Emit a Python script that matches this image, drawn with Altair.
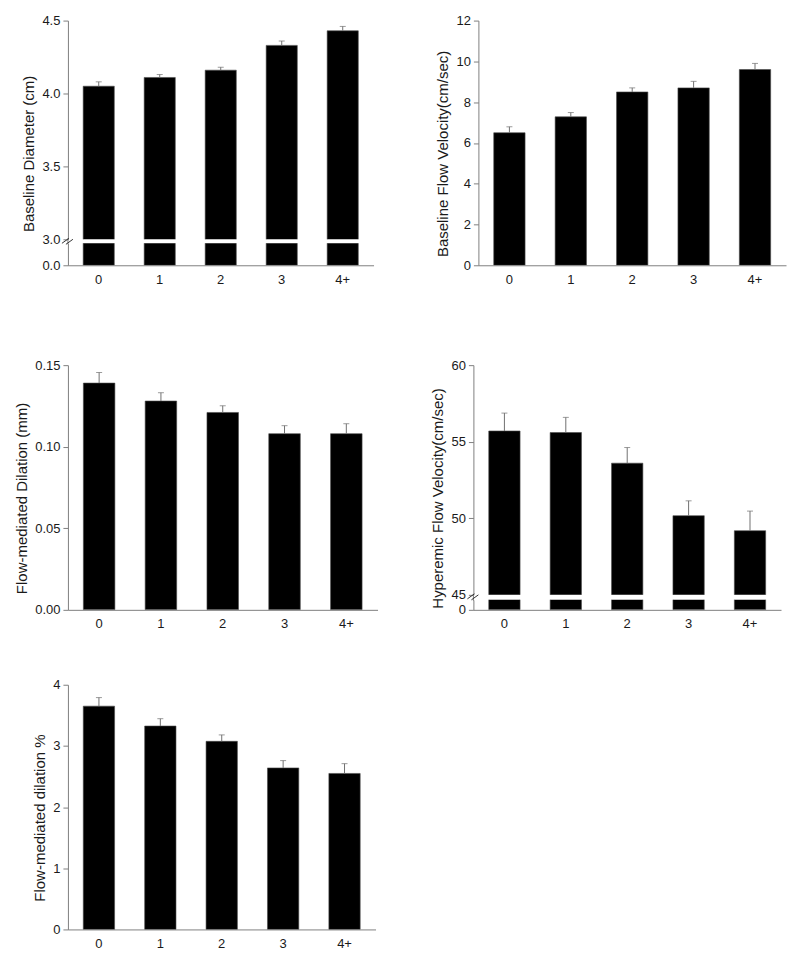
import altair as alt
import pandas as pd

cats = ["0", "1", "2", "3", "4+"]

diam_mean = [4.05, 4.11, 4.16, 4.33, 4.43]
diam_upper = [4.08, 4.13, 4.18, 4.36, 4.46]

bfv_mean = [6.5, 7.28, 8.5, 8.7, 9.6]
bfv_upper = [6.79, 7.49, 8.7, 9.02, 9.9]

fmdmm_mean = [0.139, 0.128, 0.121, 0.108, 0.108]
fmdmm_upper = [0.1455, 0.1331, 0.1251, 0.1129, 0.1141]

hfv_mean = [55.7, 55.6, 53.6, 50.17, 49.19]
hfv_upper = [56.87, 56.59, 54.62, 51.14, 50.47]

fmdpct_mean = [3.65, 3.325, 3.075, 2.64, 2.55]
fmdpct_upper = [3.79, 3.445, 3.18, 2.76, 2.71]

AXIS_GRAY = "#808080"
ERR_GRAY = "#707070"
TXT = "#1a1a1a"
FONT = "Liberation Sans"

TXT_KW = dict(labelFont=FONT, labelFontSize=13, labelColor=TXT,
              titleFont=FONT, titleFontSize=15, titleColor=TXT, titleFontWeight="normal")


def frame(mean, upper):
    return pd.DataFrame({"cat": cats, "mean": mean, "upper": upper})


def xenc(show):
    scale = alt.Scale(paddingInner=0.49, paddingOuter=0.25)
    if show:
        axis = alt.Axis(title=None, labelAngle=0, ticks=False, tickSize=0,
                        labelPadding=8, domainColor=AXIS_GRAY, **TXT_KW)
        return alt.X("cat:N", sort=cats, scale=scale, axis=axis)
    return alt.X("cat:N", sort=cats, scale=scale, axis=None)


def yaxis(title, ticks, fmt):
    kw = dict(values=ticks, format=fmt, tickSize=5, labelPadding=3,
              domainColor=AXIS_GRAY, tickColor=AXIS_GRAY, grid=False, **TXT_KW)
    if title:
        kw.update(title=title, titlePadding=5, titleY=133)
    else:
        kw.update(title=None)
    return alt.Axis(**kw)


def main_layer(df, title, domain, ticks, fmt, show_x):
    sc = alt.Scale(domain=domain, nice=False, zero=False)
    ax = yaxis(title, ticks, fmt)
    base = alt.Chart(df)
    bars = base.mark_bar(color="black", stroke="#4a4a4a", strokeWidth=0.6, clip=True).encode(
        x=xenc(show_x), y=alt.Y("mean:Q", scale=sc, axis=ax))
    err = base.mark_rule(color=ERR_GRAY, strokeWidth=1).encode(
        x=xenc(show_x), y=alt.Y("mean:Q", scale=sc, axis=ax), y2="upper:Q")
    cap = base.mark_tick(color=ERR_GRAY, size=6, thickness=1).encode(
        x=xenc(show_x), y=alt.Y("upper:Q", scale=sc, axis=ax))
    return [bars, err, cap]


def simple_panel(mean, upper, title, domain, ticks, fmt, width=306, height=245):
    df = frame(mean, upper)
    layers = main_layer(df, title, domain, ticks, fmt, True)
    return alt.layer(*layers).properties(width=width, height=height)


def break_panel(mean, upper, title, domain, ticks, fmt, low_domain, low_fmt,
                up_h, low_h, gap, width=306):
    df = frame(mean, upper)
    layers = main_layer(df, title, domain, ticks, fmt, False)
    mark_df = pd.DataFrame({"b": [0]})
    conn = alt.Chart(mark_df).mark_rule(color=AXIS_GRAY, strokeWidth=1).encode(
        x=alt.value(0), y=alt.value(up_h - 1), y2=alt.value(up_h + gap + 1))
    s1 = alt.Chart(mark_df).mark_rule(color="#333333", strokeWidth=1).encode(
        x=alt.value(-6), x2=alt.value(1), y=alt.value(up_h + 4), y2=alt.value(up_h - 1))
    s2 = alt.Chart(mark_df).mark_rule(color="#333333", strokeWidth=1).encode(
        x=alt.value(-2), x2=alt.value(5), y=alt.value(up_h + 5), y2=alt.value(up_h))
    upper_chart = alt.layer(*layers, conn, s1, s2).properties(width=width, height=up_h)

    lsc = alt.Scale(domain=low_domain, nice=False, zero=False)
    lower_chart = alt.Chart(df).mark_bar(color="black", stroke="#4a4a4a", strokeWidth=0.6,
                                         clip=True).encode(
        x=xenc(True),
        y=alt.Y("mean:Q", scale=lsc, axis=yaxis(None, [low_domain[0]], low_fmt)),
    ).properties(width=width, height=low_h)
    return alt.vconcat(upper_chart, lower_chart, spacing=gap, bounds="flush")


p1 = break_panel(diam_mean, diam_upper, "Baseline Diameter (cm)", [3.0, 4.5],
                 [3.0, 3.5, 4.0, 4.5], ".1f", [0, 0.2], ".1f", 219, 22, 4)
p2 = simple_panel(bfv_mean, bfv_upper, "Baseline Flow Velocity(cm/sec)", [0, 12],
                  [0, 2, 4, 6, 8, 10, 12], "d", width=308)
p3 = simple_panel(fmdmm_mean, fmdmm_upper, "Flow-mediated Dilation (mm)", [0, 0.15],
                  [0, 0.05, 0.10, 0.15], ".2f", width=310)
p4 = break_panel(hfv_mean, hfv_upper, "Hyperemic Flow Velocity(cm/sec)", [45, 60],
                 [45, 50, 55, 60], "d", [0, 2], "d", 230, 10, 5, width=308)
p5 = simple_panel(fmdpct_mean, fmdpct_upper, "Flow-mediated dilation %", [0, 4],
                  [0, 1, 2, 3, 4], "d", width=308)

row1 = alt.hconcat(p1, p2, spacing=61)
row2 = alt.hconcat(p3, p4, spacing=52)
inner = alt.vconcat(row2, p5, spacing=46)

chart = alt.vconcat(row1, inner, spacing=71).properties(
    padding={"left": 6, "top": 5, "right": 5, "bottom": 5}
).configure_view(stroke="transparent")

chart.save("out.html", embed_options={"renderer": "svg", "actions": False})
